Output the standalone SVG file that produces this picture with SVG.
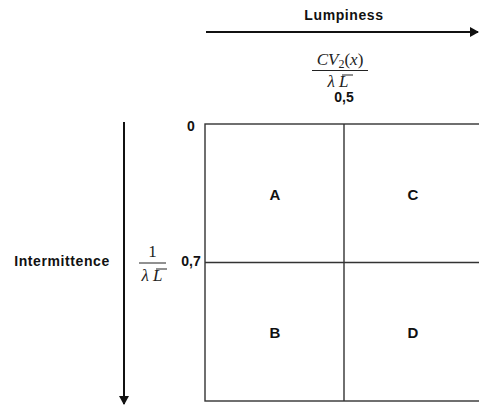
<svg xmlns="http://www.w3.org/2000/svg" width="479" height="406" viewBox="0 0 479 406">
<style>
.lbl{font-family:"Liberation Sans",Arial,sans-serif;font-weight:bold;font-size:14px;fill:#111}
.cell{font-family:"Liberation Sans",Arial,sans-serif;font-weight:bold;font-size:15px;fill:#111}
.math{font-family:"Liberation Serif","Times New Roman",serif;font-style:italic;font-size:17px;fill:#222}
.mathr{font-family:"Liberation Serif","Times New Roman",serif;font-size:17px;fill:#222}
.grid{stroke:#333;stroke-width:1.4;fill:none}
.axis{stroke:#111;stroke-width:2;fill:none}
.bar{stroke:#222;stroke-width:1}
</style>
<defs>
<marker id="ah" markerWidth="9" markerHeight="10" refX="8" refY="5" orient="auto" markerUnits="userSpaceOnUse">
<path d="M0,0 L9,5 L0,10 Z" fill="#111"/>
</marker>
</defs>
<rect width="479" height="406" fill="#fff"/>
<g id="connectors">
<line class="axis" x1="206" y1="32" x2="478" y2="32" marker-end="url(#ah)"/>
<line class="axis" x1="124" y1="122" x2="124" y2="404" marker-end="url(#ah)"/>
</g>
<g id="grid">
<rect class="grid" x="205" y="124" width="280" height="277"/>
<line class="grid" x1="344" y1="124" x2="344" y2="401"/>
<line class="grid" x1="205" y1="262.5" x2="485" y2="262.5"/>
</g>
<g id="lumpiness-label">
<text class="lbl" x="344" y="20" text-anchor="middle" letter-spacing="0.6">Lumpiness</text>
<text class="math" x="340" y="65" text-anchor="middle">CV<tspan font-size="12" dy="3" font-style="normal">2</tspan><tspan dy="-3" font-style="normal">(</tspan>x<tspan font-style="normal">)</tspan></text>
<line class="bar" x1="312" y1="70.5" x2="368" y2="70.5"/>
<text class="math" x="338" y="87" text-anchor="middle">λ L</text>
<line class="bar" x1="342" y1="75" x2="353" y2="75"/>
<text class="lbl" x="344" y="102" text-anchor="middle" font-size="13.5">0,5</text>
</g>
<g id="intermittence-label">
<text class="lbl" x="62" y="266" text-anchor="middle" letter-spacing="0.6">Intermittence</text>
<text class="mathr" x="152.5" y="257" text-anchor="middle">1</text>
<line class="bar" x1="139" y1="263" x2="166" y2="263"/>
<text class="math" x="152" y="281" text-anchor="middle">λ L</text>
<line class="bar" x1="156" y1="269" x2="167" y2="269"/>
<text class="lbl" x="191" y="266" text-anchor="middle">0,7</text>
<text class="lbl" x="191" y="131" text-anchor="middle">0</text>
</g>
<g id="A"><text class="cell" x="275" y="200" text-anchor="middle">A</text></g>
<g id="C"><text class="cell" x="413" y="200" text-anchor="middle">C</text></g>
<g id="B"><text class="cell" x="275" y="338" text-anchor="middle">B</text></g>
<g id="D"><text class="cell" x="413" y="338" text-anchor="middle">D</text></g>
</svg>
